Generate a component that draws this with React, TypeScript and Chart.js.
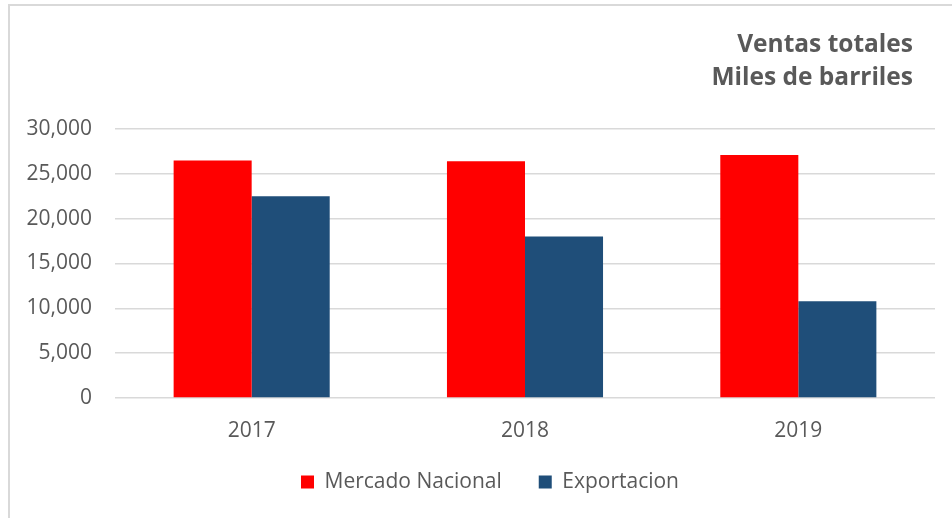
import React, { useEffect, useRef } from "react";
import { Chart, registerables } from "chart.js";

Chart.register(...registerables);

const categories = ["2017", "2018", "2019"];
const mercadoNacional = [26500, 26400, 27100];
const exportacion = [22500, 18000, 10800];
const titleLines = ["Ventas totales", "Miles de barriles"];
const seriesNames = ["Mercado Nacional", "Exportacion"];
const yMax = 30000;
const yStep = 5000;

const FONT = "'Open Sans', sans-serif";
const TEXT = "#595959";

const titlePlugin = {
  id: "rightTitle",
  afterDraw(chart: any) {
    const ctx = chart.ctx;
    ctx.save();
    ctx.font = `bold 24.5px ${FONT}`;
    ctx.fillStyle = TEXT;
    ctx.textAlign = "right";
    ctx.textBaseline = "alphabetic";
    const x = chart.chartArea.right - 22;
    ctx.fillText(titleLines[0], x, 52);
    ctx.fillText(titleLines[1], x, 85);
    ctx.restore();
  },
};

// nudge the legend up a little so it sits closer to the axis labels
const legendShift = {
  id: "legendShift",
  afterLayout(chart: any) {
    const l = chart.legend;
    if (l) {
      l.top -= 9.5;
      l.bottom -= 9.5;
    }
  },
};

export default function App() {
  const ref = useRef<HTMLCanvasElement | null>(null);
  useEffect(() => {
    if (!ref.current) return;
    const chart = new Chart(ref.current, {
      type: "bar",
      data: {
        labels: categories,
        datasets: [
          {
            label: seriesNames[0],
            data: mercadoNacional,
            backgroundColor: "#ff0000",
            categoryPercentage: 0.571,
            barPercentage: 1,
          },
          {
            label: seriesNames[1],
            data: exportacion,
            backgroundColor: "#1f4e79",
            categoryPercentage: 0.571,
            barPercentage: 1,
          },
        ],
      },
      options: {
        animation: false,
        responsive: false,
        maintainAspectRatio: false,
        layout: { padding: { top: 129, left: 0, right: 0, bottom: 6 } },
        plugins: {
          title: { display: false },
          tooltip: { enabled: false },
          legend: {
            position: "bottom",
            labels: {
              boxWidth: 13,
              boxHeight: 13,
              padding: 37,
              color: TEXT,
              font: { family: FONT, size: 21 },
            },
          },
        },
        scales: {
          x: {
            grid: { display: false, drawTicks: false },
            border: { display: false },
            afterFit: (scale: any) => {
              scale.height = 46;
            },
            ticks: {
              color: TEXT,
              font: { family: FONT, size: 21 },
              padding: 20,
            },
          },
          y: {
            min: 0,
            max: yMax,
            afterFit: (scale: any) => {
              scale.width = 115;
            },
            grid: { color: "#d9d9d9", lineWidth: 1.5, drawTicks: false },
            border: { display: false },
            ticks: {
              stepSize: yStep,
              padding: 23,
              color: TEXT,
              font: { family: FONT, size: 21 },
              callback: (v: any) => Number(v).toLocaleString("en-US"),
            },
          },
          y2: {
            position: "right",
            display: true,
            grid: { display: false, drawTicks: false },
            border: { display: false },
            ticks: { display: false },
            afterFit: (scale: any) => {
              scale.width = 45;
            },
          },
        },
      },
      plugins: [titlePlugin, legendShift],
    });
    return () => chart.destroy();
  }, []);

  return (
    <div
      style={{
        position: "fixed",
        left: 0,
        top: 0,
        width: 952,
        height: 518,
        overflow: "hidden",
        background: "#fff",
      }}
    >
      <canvas
        ref={ref}
        width={980}
        height={518}
        style={{ position: "absolute", left: 0, top: 0, width: 980, height: 518 }}
      />
      <div
        style={{
          position: "absolute",
          left: 8,
          top: 4,
          width: 1000,
          height: 600,
          borderLeft: "2px solid #d9d9d9",
          borderTop: "2px solid #d9d9d9",
          pointerEvents: "none",
        }}
      />
    </div>
  );
}
